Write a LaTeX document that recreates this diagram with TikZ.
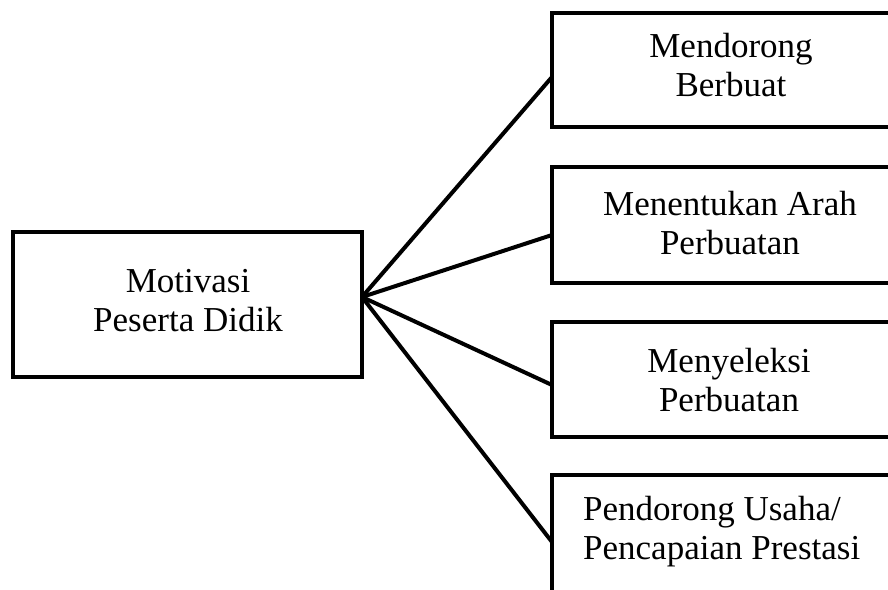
\documentclass[tikz,border=0pt]{standalone}
\usepackage{fontspec}
\setmainfont{Liberation Serif}
\usetikzlibrary{calc}
\begin{document}
\begin{tikzpicture}[x=1pt,y=-1pt,
  box/.style={draw=black,line width=4.5pt,rectangle,inner sep=0pt,outer sep=0pt},
  lbl/.style={inner sep=0pt,font=\fontsize{35pt}{39pt}\selectfont},
  conn/.style={draw=black,line width=4pt}]
\useasboundingbox (0,0) rectangle (888,589);
\node[box,minimum width=349pt,minimum height=145pt] (L) at (187.5,304.5) {};
\node[box,minimum width=368pt,minimum height=114pt] (B1) at (736,70) {};
\node[box,minimum width=368pt,minimum height=116pt] (B2) at (736,225) {};
\node[box,minimum width=368pt,minimum height=115pt] (B3) at (736,379.5) {};
\node[box,minimum width=368pt,minimum height=130pt] (B4) at (736,540) {};
\node[lbl,align=center] (tL) at (188,301) {Motivasi\\Peserta Didik};
\node[lbl,align=center] (t1) at (731,65.5) {Mendorong\\Berbuat};
\node[lbl,align=center] (t2) at (730,223) {Menentukan Arah\\Perbuatan};
\node[lbl,align=center] (t3) at (729,380) {Menyeleksi\\Perbuatan};
\node[lbl,align=left,anchor=west] (t4) at (583,532) {Pendorong Usaha/\\Pencapaian Prestasi};
\coordinate (S) at ($(L.east)+(0,-7.5)$);
\draw[conn] (S) -- ($(B1.west)+(0,7)$);
\draw[conn] (S) -- ($(B2.west)+(0,10)$);
\draw[conn] (S) -- ($(B3.west)+(0,5.5)$);
\draw[conn] (S) -- ($(B4.west)+(0,2)$);
\end{tikzpicture}
\end{document}
